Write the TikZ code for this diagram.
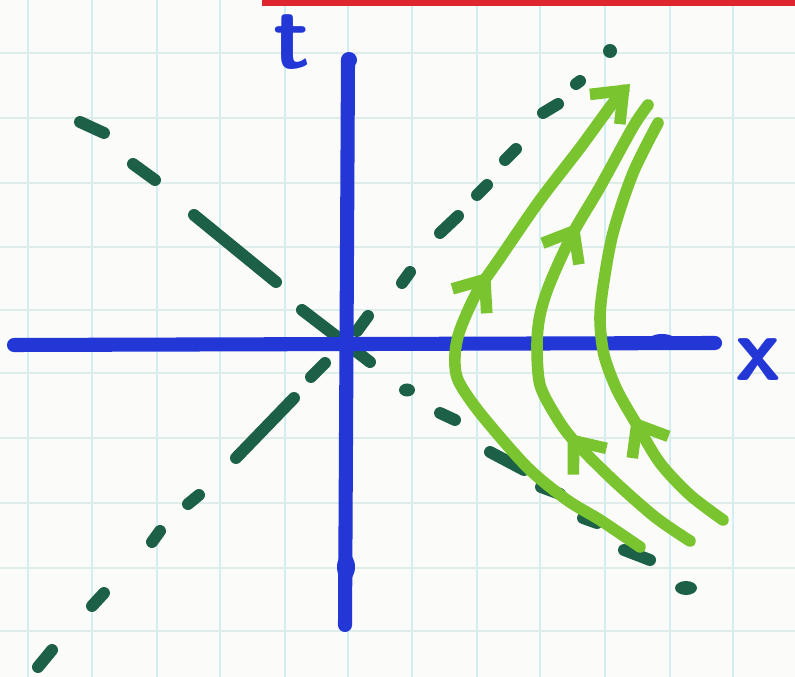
\documentclass[tikz,border=0pt]{standalone}
\usepackage{tikz}
\usetikzlibrary{arrows.meta,decorations.markings}
\definecolor{paper}{RGB}{251,251,249}
\definecolor{gridblue}{RGB}{208,238,244}
\definecolor{gridgrey}{RGB}{222,236,234}
\definecolor{axisblue}{RGB}{35,55,215}
\definecolor{conegreen}{RGB}{28,96,72}
\definecolor{worldgreen}{RGB}{122,196,48}
\definecolor{topred}{RGB}{222,38,46}

\begin{document}
\begin{tikzpicture}[x=0.01cm,y=-0.01cm,
  gridline/.style={line width=0.6pt},
  axis/.style={draw=axisblue,line width=4pt,line cap=round},
  conedash/.style={draw=conegreen,line width=3.4pt,line cap=round},
  worldline/.style={draw=worldgreen,line width=3.3pt,line cap=round,line join=round},
  axislabel/.style={text=axisblue,font=\sffamily\bfseries\fontsize{26}{26}\selectfont},
  >={Straight Barb[length=7.5pt,width=12pt]}]
\useasboundingbox[fill=paper] (0,0) rectangle (795,677);
\foreach \gx in {28,92,157,220,285,348,412,477,540,605,670,733}
  \draw[gridline,draw=gridblue] (\gx,0) -- (\gx,677);
\foreach \gy in {53,118,183,247,310,373,438,503,568,631}
  \draw[gridline,draw=gridgrey] (0,\gy) -- (795,\gy);
\fill[topred] (262,0) rectangle (795,6);
\foreach \xa/\ya/\xb/\yb in {38/667/52/650, 92/606/104/593, 152/542/160/531, 188/504/199/495,
  236/458/294/398, 311/377/325/363, 357/331/368/316, 402/283/410/272, 440/233/458/216,
  477/195/487/185, 505/160/516/149, 543/113/558/104, 576/84/580/81}
  \draw[conedash] (\xa,\ya) -- (\xb,\yb);
\foreach \xa/\ya/\xb/\yb in {80/122/104/133, 133/164/155/180, 194/215/276/282, 302/310/370/362,
  440/413/455/420, 490/452/524/470, 541/487/560/494, 583/518/597/523, 624/550/650/560}
  \draw[conedash] (\xa,\ya) -- (\xb,\yb);
\fill[conegreen] (610,51) circle (0.07cm);
\fill[conegreen] (407,390) ellipse (0.08cm and 0.065cm);
\fill[conegreen] (686,588) ellipse (0.11cm and 0.07cm);
\draw[axis] (348,60) -- (345,625);
\draw[axis] (14,345) -- (715,343);
\fill[axisblue] (349,60) circle (0.08cm);
\fill[axisblue] (346,567) ellipse (0.09cm and 0.14cm);
\fill[axisblue] (662,342) ellipse (0.15cm and 0.08cm);
\node[axislabel] (tlab) at (292,42) {t};
\node[axislabel] (xlab) at (758,360) {x};
\draw[worldline,->,postaction={decorate,decoration={markings,mark=at position 0.61 with {\arrow{>}}}}]
  plot[smooth] coordinates {(640,547) (600,520) (567,500) (527,467) (480,413) (458,380) (455,355)
  (460,330) (477,292) (500,258) (540,200) (580,148) (613,103) (630,84)};
\draw[worldline,postaction={decorate,decoration={markings,mark=at position 0.31 with {\arrow{>}},
  mark=at position 0.74 with {\arrow{>}}}}]
  plot[smooth] coordinates {(690,541) (655,517) (613,480) (575,442) (557,418) (540,385) (537,345)
  (540,315) (550,283) (573,233) (600,187) (633,127) (648,105)};
\draw[worldline,postaction={decorate,decoration={markings,mark=at position 0.31 with {\arrow{>}}}}]
  plot[smooth] coordinates {(723,520) (690,495) (660,463) (637,425) (617,390) (604,355) (600,320)
  (603,287) (613,233) (633,173) (658,123)};
\end{tikzpicture}
\end{document}
